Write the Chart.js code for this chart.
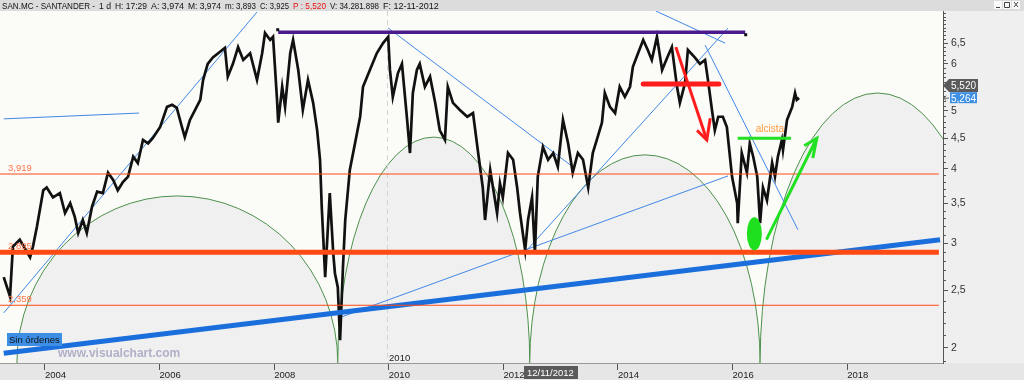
<!DOCTYPE html>
<html>
<head>
<meta charset="utf-8">
<script src="https://cdn.jsdelivr.net/npm/chart.js@4.4.1/dist/chart.umd.min.js"></script>
<style>
  html, body { margin: 0; padding: 0; background: #ededed; }
  #grafico { display: block; }
</style>
</head>
<body>
<canvas id="grafico" width="1024" height="380"></canvas>
<script>
// Cotización SAN.MC (fecha en año decimal, precio)
const fechas = [
  2003.28, 2003.39, 2003.44, 2003.56, 2003.74, 2003.79, 2003.86, 2003.97, 2004.03, 2004.14,
  2004.26, 2004.35, 2004.44, 2004.52, 2004.58, 2004.66, 2004.73, 2004.82, 2004.91, 2005.01,
  2005.10, 2005.19, 2005.27, 2005.36, 2005.45, 2005.54, 2005.62, 2005.71, 2005.80, 2005.88,
  2006.01, 2006.13, 2006.22, 2006.30, 2006.39, 2006.44, 2006.53, 2006.62, 2006.71, 2006.76,
  2006.84, 2006.93, 2007.05, 2007.14, 2007.19, 2007.28, 2007.37, 2007.46, 2007.58, 2007.70,
  2007.79, 2007.84, 2007.93, 2007.98, 2008.05, 2008.07, 2008.14, 2008.19, 2008.28, 2008.33,
  2008.42, 2008.50, 2008.59, 2008.68, 2008.75, 2008.80, 2008.83, 2008.89, 2008.97, 2009.03,
  2009.06, 2009.11, 2009.15, 2009.20, 2009.24, 2009.32, 2009.41, 2009.50, 2009.55, 2009.67,
  2009.79, 2009.90, 2009.99, 2010.02, 2010.07, 2010.16, 2010.23, 2010.32, 2010.37, 2010.42,
  2010.49, 2010.54, 2010.63, 2010.72, 2010.81, 2010.89, 2010.98, 2011.03, 2011.12, 2011.24,
  2011.37, 2011.47, 2011.56, 2011.64, 2011.68, 2011.77, 2011.89, 2011.94, 2011.99, 2012.08,
  2012.17, 2012.24, 2012.29, 2012.38, 2012.43, 2012.50, 2012.55, 2012.60, 2012.69, 2012.78,
  2012.87, 2012.95, 2013.04, 2013.13, 2013.21, 2013.30, 2013.39, 2013.48, 2013.56, 2013.63,
  2013.72, 2013.77, 2013.86, 2013.95, 2014.03, 2014.12, 2014.21, 2014.26, 2014.35, 2014.44,
  2014.52, 2014.59, 2014.68, 2014.77, 2014.86, 2014.94, 2015.03, 2015.08, 2015.17, 2015.22,
  2015.34, 2015.43, 2015.52, 2015.57, 2015.64, 2015.69, 2015.75, 2015.83, 2015.90, 2015.99,
  2016.08, 2016.09, 2016.16, 2016.25, 2016.30, 2016.36, 2016.43, 2016.48, 2016.53, 2016.60,
  2016.69, 2016.74, 2016.79, 2016.86, 2016.88, 2016.95, 2017.04, 2017.09, 2017.12, 2017.16
];
const cierres = [
  2.63, 2.44, 2.96, 3.04, 2.84, 2.96, 3.20, 3.68, 3.72, 3.58,
  3.64, 3.37, 3.50, 3.32, 3.12, 3.28, 3.12, 3.45, 3.66, 3.64,
  3.94, 3.83, 3.68, 3.80, 3.88, 4.19, 4.09, 4.47, 4.41, 4.50,
  4.70, 5.08, 5.12, 5.06, 4.70, 4.52, 4.83, 5.02, 5.22, 5.64,
  6.00, 6.15, 6.28, 6.38, 5.71, 6.00, 6.40, 6.09, 6.25, 5.64,
  6.25, 6.76, 6.58, 6.66, 5.22, 4.78, 5.49, 5.08, 6.25, 6.58,
  5.86, 5.02, 5.64, 5.16, 4.64, 4.14, 3.45, 2.63, 3.64, 2.89,
  2.67, 2.53, 2.06, 2.73, 3.28, 3.98, 4.41, 4.89, 5.49, 5.86,
  6.25, 6.50, 6.66, 5.86, 5.28, 5.79, 6.00, 4.83, 4.25, 5.36,
  5.86, 6.00, 5.49, 5.71, 5.16, 4.64, 4.47, 5.49, 5.16, 5.02,
  4.89, 4.96, 4.25, 3.72, 3.28, 3.98, 3.37, 3.78, 3.58, 4.25,
  4.14, 3.72, 3.37, 2.92, 3.28, 3.58, 2.89, 3.88, 4.35, 4.14,
  4.25, 4.03, 4.83, 4.41, 3.94, 4.25, 4.14, 3.72, 4.25, 4.47,
  4.78, 5.36, 5.08, 4.96, 5.49, 5.28, 5.49, 5.93, 6.25, 6.58,
  6.33, 6.09, 6.66, 5.86, 6.15, 6.40, 5.49, 5.16, 5.57, 6.33,
  6.15, 6.00, 6.09, 5.64, 5.02, 4.64, 4.89, 4.89, 4.70, 3.88,
  3.50, 3.24, 4.25, 3.94, 4.41, 4.19, 3.88, 3.24, 3.72, 3.54,
  4.09, 3.88, 4.19, 4.47, 4.30, 4.83, 5.08, 5.36, 5.22, 5.26
];

// Ejes
const añosEje = [2004, 2006, 2008, 2010, 2012, 2014, 2016, 2018];
const ticksPrecio = [2, 2.5, 3, 3.5, 4, 4.5, 5, 6, 6.5];

// Soportes horizontales
const niveles = [3.919, 2.895, 2.359];
const etiquetasNiveles = ['3,919', '2,895', '2,359'];

// Directrices (pares [fecha, precio])
const directrizPrincipal = [[2003.28, 1.96], [2019.62, 3.04]];
const directricesFinas = [
  [[2003.28, 2.29], [2007.70, 7.33]],
  [[2003.28, 4.85], [2005.64, 4.96]],
  [[2009.99, 6.89], [2013.21, 4.03]],
  [[2012.41, 2.92], [2015.92, 6.89]],
  [[2009.15, 2.25], [2015.92, 3.89]],
  [[2015.52, 6.45], [2017.14, 3.16]],
  [[2014.66, 7.36], [2015.87, 6.50]]
];
const techo = [[2008.07, 6.78], [2016.22, 6.78]];

// Dibujos a mano
const rojaHorizontal = [[2014.44, 5.55], [2015.76, 5.55]];
const flechaRoja = [[2015.01, 6.40], [2015.55, 4.47]];
const puntaRoja = [[2015.38, 4.64], [2015.55, 4.47], [2015.61, 4.86]];
const verdeHorizontal = [[2016.09, 4.50], [2017.02, 4.50]];
const flechaVerde = [[2016.59, 3.04], [2017.47, 4.50]];
const puntaVerde = [[2017.25, 4.37], [2017.47, 4.50], [2017.40, 4.17]];
const elipseVerde = [2016.38, 3.11];

// Ciclos (inicio, fin, máximo)
const ciclosInicio = [2003.51, 2009.11, 2012.46, 2016.48];
const ciclosFin = [2009.11, 2012.46, 2016.48, 2020.58];
const ciclosMaximo = [3.60, 4.52, 4.22, 5.36];

const fechaCursor = 2009.97;
const ultimoPrecio = 5.520;
const precioActual = 5.264;

const FUENTE = "'Liberation Sans', Arial, sans-serif";
Chart.defaults.font.family = FUENTE;

const pts = arr => arr.map(p => ({ x: p[0], y: p[1] }));
const linea = (data, color, ancho, extra) => Object.assign({
  data: pts(data), borderColor: color, borderWidth: ancho,
  pointRadius: 0, fill: false, tension: 0
}, extra || {});

const datasets = [
  linea(flechaRoja, '#ff1c1c', 3),
  linea(puntaRoja, '#ff1c1c', 3),
  linea(rojaHorizontal, '#ff1c1c', 5, { borderCapStyle: 'round' }),
  linea(flechaVerde, '#22e022', 3),
  linea(puntaVerde, '#22e022', 3),
  linea(verdeHorizontal, '#22e022', 3),
  linea(techo, '#4a1a8e', 3.5),
  ...niveles.map((n, i) => linea([[2003.2, n], [2019.6, n]], '#ff4a14', i === 1 ? 5 : 1.2)),
  linea(directrizPrincipal, '#1a6fdc', 5),
  {
    data: fechas.map((f, i) => ({ x: f, y: cierres[i] })),
    borderColor: '#111', borderWidth: 2.7, pointRadius: 0, tension: 0, fill: false
  },
  ...directricesFinas.map(d => linea(d, '#4288e6', 1))
];

const decorado = {
  id: 'decorado',
  beforeDraw(chart) {
    const { ctx, chartArea: a, width, height } = chart;
    const xs = chart.scales.x, ys = chart.scales.y;
    ctx.save();
    ctx.fillStyle = '#efefef';
    ctx.fillRect(0, 0, width, height);
    ctx.fillStyle = '#fbfbf7';
    ctx.fillRect(a.left, a.top, a.right - a.left, a.bottom - a.top);
    ctx.fillStyle = '#e6e6e6';
    ctx.fillRect(0, a.bottom, width, height - a.bottom);
    ctx.fillStyle = '#dcdcdc';
    ctx.fillRect(0, 0, width, a.top);

    ctx.beginPath();
    ctx.rect(a.left, a.top, a.right - a.left, a.bottom - a.top);
    ctx.clip();
    // semicírculos de ciclos
    ciclosInicio.forEach((ini, i) => {
      const x1 = xs.getPixelForValue(ini), x2 = xs.getPixelForValue(ciclosFin[i]);
      const py = ys.getPixelForValue(ciclosMaximo[i]);
      ctx.beginPath();
      ctx.ellipse((x1 + x2) / 2, a.bottom, (x2 - x1) / 2, a.bottom - py, 0, Math.PI, 2 * Math.PI);
      ctx.fillStyle = '#f0f0f0';
      ctx.fill();
      ctx.strokeStyle = '#4c914c';
      ctx.lineWidth = 1;
      ctx.stroke();
    });
    // cursor
    const xc = Math.round(xs.getPixelForValue(fechaCursor)) + 0.5;
    ctx.strokeStyle = '#d4d4d4';
    ctx.setLineDash([5, 4]);
    ctx.beginPath();
    ctx.moveTo(xc, a.top);
    ctx.lineTo(xc, a.bottom);
    ctx.stroke();
    ctx.restore();
  },
  afterDraw(chart) {
    const { ctx, chartArea: a } = chart;
    const xs = chart.scales.x, ys = chart.scales.y;
    ctx.save();

    // marcas menores del eje de precios
    ctx.strokeStyle = '#555';
    ctx.lineWidth = 1;
    for (let v = 1.9; v < 7.35; v += 0.1) {
      const r = Math.round(v * 10) / 10;
      if (ticksPrecio.includes(r)) continue;
      const y = Math.round(ys.getPixelForValue(r)) + 0.5;
      ctx.beginPath();
      ctx.moveTo(a.right, y);
      ctx.lineTo(a.right + 3, y);
      ctx.stroke();
    }

    // barra de título
    ctx.font = '9px ' + FUENTE;
    ctx.textBaseline = 'alphabetic';
    const titulo = [
      [2, 'SAN.MC - SANTANDER -', '#111'], [99, '1 d', '#111'], [115, 'H: 17:29', '#111'],
      [151, 'A: 3,974', '#111'], [188, 'M: 3,974', '#111'], [225, 'm: 3,893', '#111'],
      [260, 'C: 3,925', '#111'], [293, 'P : 5,520', '#e81010'], [330, 'V: 34.281.898', '#111'],
      [383, 'F: 12-11-2012', '#111']
    ];
    titulo.forEach(([x, t, c], i) => {
      const sig = i + 1 < titulo.length ? titulo[i + 1][0] : x + 60;
      ctx.fillStyle = c;
      ctx.fillText(t, x, 9, sig - x - 4);
    });
    // botones de ventana
    [994, 1003, 1012].forEach((x, i) => {
      ctx.fillStyle = '#fafafa';
      ctx.fillRect(x, 1, 8, 8);
      ctx.strokeStyle = '#444';
      ctx.beginPath();
      if (i === 0) { ctx.moveTo(x + 2, 7.5); ctx.lineTo(x + 6, 7.5); }
      if (i === 1) { ctx.rect(x + 1.5, 2.5, 5, 5); }
      if (i === 2) { ctx.moveTo(x + 2, 2); ctx.lineTo(x + 6, 7); ctx.moveTo(x + 6, 2); ctx.lineTo(x + 2, 7); }
      ctx.stroke();
    });

    // etiquetas de niveles
    ctx.font = '9.5px ' + FUENTE;
    ctx.fillStyle = '#ff7448';
    niveles.forEach((n, i) => {
      ctx.fillText(etiquetasNiveles[i], 8, ys.getPixelForValue(n) - 3);
    });

    // alcista
    ctx.fillStyle = '#ff9a3c';
    ctx.textAlign = 'center';
    ctx.font = '10px ' + FUENTE;
    ctx.fillText('alcista', xs.getPixelForValue(2016.65), ys.getPixelForValue(verdeHorizontal[0][1]) - 6);
    ctx.textAlign = 'left';

    // elipse verde
    ctx.fillStyle = '#1ee01e';
    ctx.beginPath();
    ctx.ellipse(xs.getPixelForValue(elipseVerde[0]), ys.getPixelForValue(elipseVerde[1]), 7.5, 16.5, 0, 0, 2 * Math.PI);
    ctx.fill();

    // extremos de la línea de techo
    ctx.fillStyle = '#111';
    ctx.fillRect(xs.getPixelForValue(techo[0][0]) - 2, ys.getPixelForValue(techo[0][1]) - 4, 3, 3);
    ctx.fillRect(xs.getPixelForValue(techo[1][0]) - 1, ys.getPixelForValue(techo[1][1]) + 1, 3, 3);

    // Sin órdenes
    ctx.fillStyle = '#3d8fe6';
    ctx.fillRect(7, 333, 55, 13);
    ctx.fillStyle = '#111';
    ctx.font = '9.5px ' + FUENTE;
    ctx.fillText('Sin órdenes', 9, 343);
    // marca de agua
    ctx.fillStyle = '#b0b0c8';
    ctx.font = 'bold 12px ' + FUENTE;
    ctx.fillText('www.visualchart.com', 58, 357);

    // etiqueta 2010 del cursor
    ctx.fillStyle = '#222';
    ctx.font = '9.5px ' + FUENTE;
    ctx.fillText('2010', xs.getPixelForValue(fechaCursor) + 2, 361);

    // fecha seleccionada
    ctx.fillStyle = '#5a5a5a';
    ctx.fillRect(524, 366, 54, 13);
    ctx.fillStyle = '#fff';
    ctx.fillText('12/11/2012', 527, 376);

    // precios a la derecha
    const y1 = ys.getPixelForValue(ultimoPrecio);
    ctx.fillStyle = '#5a5a5a';
    ctx.beginPath();
    ctx.moveTo(a.right, y1);
    ctx.lineTo(a.right + 6, y1 - 6.5);
    ctx.lineTo(a.right + 35, y1 - 6.5);
    ctx.lineTo(a.right + 35, y1 + 6.5);
    ctx.lineTo(a.right + 6, y1 + 6.5);
    ctx.closePath();
    ctx.fill();
    ctx.fillStyle = '#fff';
    ctx.font = '10px ' + FUENTE;
    ctx.fillText('5,520', a.right + 8, y1 + 4);

    const y2 = ys.getPixelForValue(precioActual);
    ctx.fillStyle = '#3d8fe6';
    ctx.fillRect(a.right + 7, y2 - 5.5, 27, 11);
    ctx.fillStyle = '#fff';
    ctx.fillText('5,264', a.right + 8, y2 + 4);
    ctx.strokeStyle = '#666';
    ctx.beginPath();
    ctx.moveTo(a.right + 1, y2 + 0.5); ctx.lineTo(a.right + 6, y2 + 0.5);
    ctx.moveTo(a.right + 3, y2 - 2); ctx.lineTo(a.right + 1, y2 + 0.5); ctx.lineTo(a.right + 3, y2 + 3);
    ctx.stroke();

    ctx.restore();
  }
};

new Chart(document.getElementById('grafico'), {
  type: 'line',
  data: { datasets },
  plugins: [decorado],
  options: {
    responsive: false,
    animation: false,
    devicePixelRatio: 1,
    layout: { padding: { top: 11, left: 0, right: 0, bottom: 0 } },
    plugins: { legend: { display: false }, tooltip: { enabled: false } },
    scales: {
      x: {
        type: 'linear', position: 'bottom', min: 2003.215, max: 2019.672,
        afterBuildTicks: s => { s.ticks = añosEje.map(v => ({ value: v })); },
        afterFit: s => { s.height = 17; },
        ticks: { align: 'start', padding: 0, maxRotation: 0, autoSkip: false, color: '#222',
                 font: { size: 9.5 }, callback: v => String(v) },
        grid: { drawOnChartArea: false, tickLength: 7, color: '#555' },
        border: { color: '#999' }
      },
      y: {
        type: 'logarithmic', position: 'right', min: 1.887, max: 7.36,
        afterBuildTicks: s => { s.ticks = ticksPrecio.map(v => ({ value: v })); },
        afterFit: s => { s.width = 81; },
        ticks: { padding: 3, color: '#333', font: { size: 10.5 },
                 callback: v => String(v).replace('.', ',') },
        grid: { drawOnChartArea: false, tickLength: 5, color: '#555' },
        border: { color: '#555' }
      }
    }
  }
});
</script>
</body>
</html>
